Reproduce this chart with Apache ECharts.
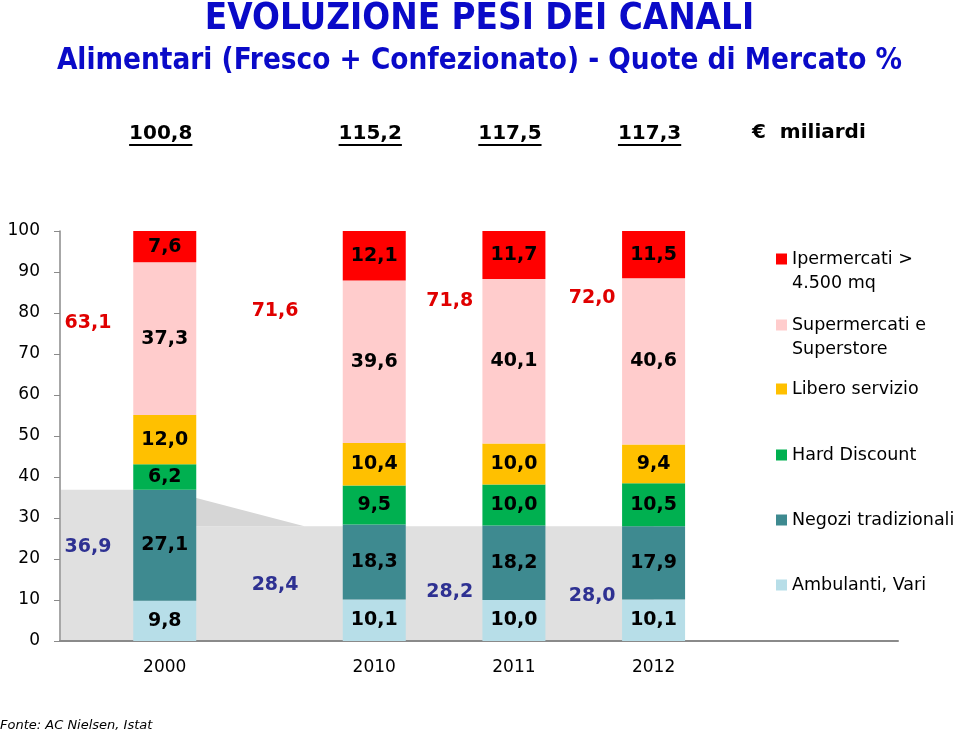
<!DOCTYPE html>
<html><head><meta charset="utf-8">
<script src="https://cdn.jsdelivr.net/npm/echarts@6/dist/echarts.min.js"></script>
<style>html,body{margin:0;padding:0;background:#fff}#c{width:959px;height:734px}</style>
</head><body><div id="c"></div>
<script>
// ---------- DATA ----------
const years = ['2000', '2010', '2011', '2012'];
const totals = ['100,8', '115,2', '117,5', '117,3'];
const totalsUnit = '€  miliardi';
const seriesNames = ['Ambulanti, Vari', 'Negozi tradizionali', 'Hard Discount', 'Libero servizio', 'Supermercati e Superstore', 'Ipermercati > 4.500 mq'];
const legendLabels = ['Ambulanti, Vari', 'Negozi tradizionali', 'Hard Discount', 'Libero servizio', 'Supermercati e\nSuperstore', 'Ipermercati >\n4.500 mq'];
const ambulanti = [9.8, 10.1, 10.0, 10.1];
const negozi = [27.1, 18.3, 18.2, 17.9];
const hardDiscount = [6.2, 9.5, 10.0, 10.5];
const libero = [12.0, 10.4, 10.0, 9.4];
const supermercati = [37.3, 39.6, 40.1, 40.6];
const ipermercati = [7.6, 12.1, 11.7, 11.5];
const modernShare = [63.1, 71.6, 71.8, 72.0];
const traditionalShare = [36.9, 28.4, 28.2, 28.0];
const titleText = 'EVOLUZIONE PESI DEI CANALI';
const subtitleText = 'Alimentari (Fresco + Confezionato) - Quote di Mercato %';
const sourceText = 'Fonte: AC Nielsen, Istat';

// ---------- LAYOUT / STYLE ----------
const SLOTS = 12;
const yearSlot = [1, 4, 6, 8];
const modernLabelPos = [[-0.1, 77.6], [2.58, 80.5], [5.08, 82.9], [7.12, 83.7]];
const tradLabelPos = [[-0.1, 22.9], [2.58, 13.7], [5.08, 12.0], [7.12, 11.0]];
const colors = ['#b7dee8', '#3e8a90', '#00b050', '#ffc000', '#ffcccc', '#ff0000'];
const legendTops = { 'Ipermercati > 4.500 mq': 223, 'Supermercati e Superstore': 289, 'Libero servizio': 377, 'Hard Discount': 443, 'Negozi tradizionali': 508, 'Ambulanti, Vari': 573 };
const FONT = 'DejaVu Sans';
const CONDENSED = '"DejaVu Sans Condensed", "Liberation Sans Narrow", "DejaVu Sans"';
const BLUE = '#0a0ac8';

const seriesData = [ambulanti, negozi, hardDiscount, libero, supermercati, ipermercati];
const cats = [];
for (let i = 0; i < SLOTS; i++) cats.push('');
yearSlot.forEach((s, i) => cats[s] = years[i]);
function slotted(arr) {
  const out = [];
  for (let i = 0; i < SLOTS; i++) out.push('-');
  yearSlot.forEach((s, i) => out[s] = arr[i]);
  return out;
}
const fmt = v => v.toFixed(1).replace('.', ',');

const measureCtx = document.createElement('canvas').getContext('2d');
function textWidth(t, font) { measureCtx.font = font; return measureCtx.measureText(t).width; }

const chart = echarts.init(document.getElementById('c'), null, { renderer: 'canvas' });

const barSeries = seriesNames.map((name, k) => ({
  name, type: 'bar', stack: 'total', barWidth: 63, z: 3,
  itemStyle: { color: colors[k] },
  label: { show: true, position: 'inside', formatter: p => fmt(p.value), fontFamily: FONT, fontWeight: 'bold', fontSize: 19, color: '#000' },
  emphasis: { disabled: true },
  data: slotted(seriesData[k])
}));

const greySeries = {
  type: 'custom', z: 1, silent: true,
  data: [[0, 0]],
  renderItem: (params, api) => {
    const w = api.size([1, 0])[0];
    const x0 = api.coord([0, 0])[0] - w / 2 + 1;
    const xB = api.coord([yearSlot[0], 0])[0];
    const xS = api.coord([3, 0])[0];
    const xR = api.coord([yearSlot[3], 0])[0];
    const yTop = api.coord([0, traditionalShare[0]])[1];
    const yFlat = api.coord([0, traditionalShare[traditionalShare.length - 1]])[1];
    const yBase = api.coord([0, 0])[1] - 1;
    return {
      type: 'group', children: [
        { type: 'polygon', shape: { points: [[x0, yTop], [xB, yTop], [xB, yFlat], [xR, yFlat], [xR, yBase], [x0, yBase]] }, style: { fill: '#e0e0e0' } },
        { type: 'polygon', shape: { points: [[xB, yTop], [xS, yFlat], [xB, yFlat]] }, style: { fill: '#d6d6d6' } }
      ]
    };
  }
};

function groupLabelSeries(values, pos, color) {
  return {
    type: 'custom', z: 5, silent: true, clip: false,
    data: values.map((v, i) => [pos[i][0], pos[i][1], i]),
    renderItem: (params, api) => {
      const i = api.value(2);
      const sx = api.value(0);
      const base = Math.floor(sx);
      const w = api.size([1, 0])[0];
      const p = api.coord([base, api.value(1)]);
      return { type: 'text', style: { text: fmt(values[i]), x: p[0] + (sx - base) * w, y: p[1], fill: color, fontFamily: FONT, fontWeight: 'bold', fontSize: 19, align: 'center', verticalAlign: 'middle' } };
    }
  };
}

const totalsSeries = {
  type: 'custom', z: 5, silent: true, clip: false,
  data: totals.map((t, i) => [yearSlot[i], 0, i]),
  renderItem: (params, api) => {
    const i = api.value(2);
    const x = api.coord([api.value(0), 0])[0] - 4;
    const font = 'bold 20px "' + FONT + '"';
    const tw = textWidth(totals[i], font);
    return {
      type: 'group', children: [
        { type: 'text', style: { text: totals[i], x: x, y: 134, fill: '#000', fontFamily: FONT, fontWeight: 'bold', fontSize: 20, align: 'center', verticalAlign: 'middle' } },
        { type: 'line', shape: { x1: x - tw / 2, y1: 145, x2: x + tw / 2, y2: 145 }, style: { stroke: '#000', lineWidth: 2 } }
      ]
    };
  }
};

const legends = seriesNames.slice().reverse().map(name => {
  const lbl = legendLabels[seriesNames.indexOf(name)];
  const twoLine = lbl.indexOf('\n') >= 0;
  return {
    data: [name], left: 776, top: legendTops[name], padding: 0, itemWidth: 11, itemHeight: 11, itemGap: 5,
    icon: 'rect', selectedMode: false,
    formatter: () => (twoLine ? ' \n' + lbl : lbl),
    textStyle: { fontFamily: FONT, fontSize: 17.5, color: '#000', lineHeight: 24 }
  };
});

chart.setOption({
  animation: false,
  title: [
    { text: titleText, left: 'center', top: 1, padding: 0, textStyle: { fontFamily: CONDENSED, fontWeight: 'bold', fontSize: 36.5, lineHeight: 38, color: BLUE } },
    { text: subtitleText, left: 'center', top: 43, padding: 0, textStyle: { fontFamily: CONDENSED, fontWeight: 'bold', fontSize: 29.4, lineHeight: 36, color: BLUE } },
    { text: sourceText, left: 0, top: 717, padding: 0, textStyle: { fontFamily: FONT, fontStyle: 'italic', fontWeight: 'normal', fontSize: 13, lineHeight: 18, color: '#000' } }
  ],
  graphic: [
    { type: 'text', left: 752, top: 123, style: { text: totalsUnit, fontFamily: FONT, fontWeight: 'bold', fontSize: 20, fill: '#000' } }
  ],
  legend: legends,
  grid: { left: 60, right: 61, top: 231, bottom: 93, containLabel: false },
  xAxis: {
    type: 'category', data: cats,
    axisLine: { show: true, lineStyle: { color: '#8a8a8a', width: 2 } },
    axisTick: { show: false },
    axisLabel: { interval: 0, fontFamily: FONT, fontSize: 17, color: '#000', margin: 18 }
  },
  yAxis: {
    type: 'value', min: 0, max: 100, interval: 10,
    axisLine: { show: true, lineStyle: { color: '#8a8a8a', width: 1.5 } },
    axisTick: { show: true, length: 6, lineStyle: { color: '#8a8a8a' } },
    splitLine: { show: false },
    axisLabel: { fontFamily: FONT, fontSize: 17, color: '#000', margin: 20 }
  },
  series: [greySeries].concat(barSeries, [groupLabelSeries(modernShare, modernLabelPos, '#e00000'), groupLabelSeries(traditionalShare, tradLabelPos, '#2e3192'), totalsSeries])
});
</script>
</body></html>
